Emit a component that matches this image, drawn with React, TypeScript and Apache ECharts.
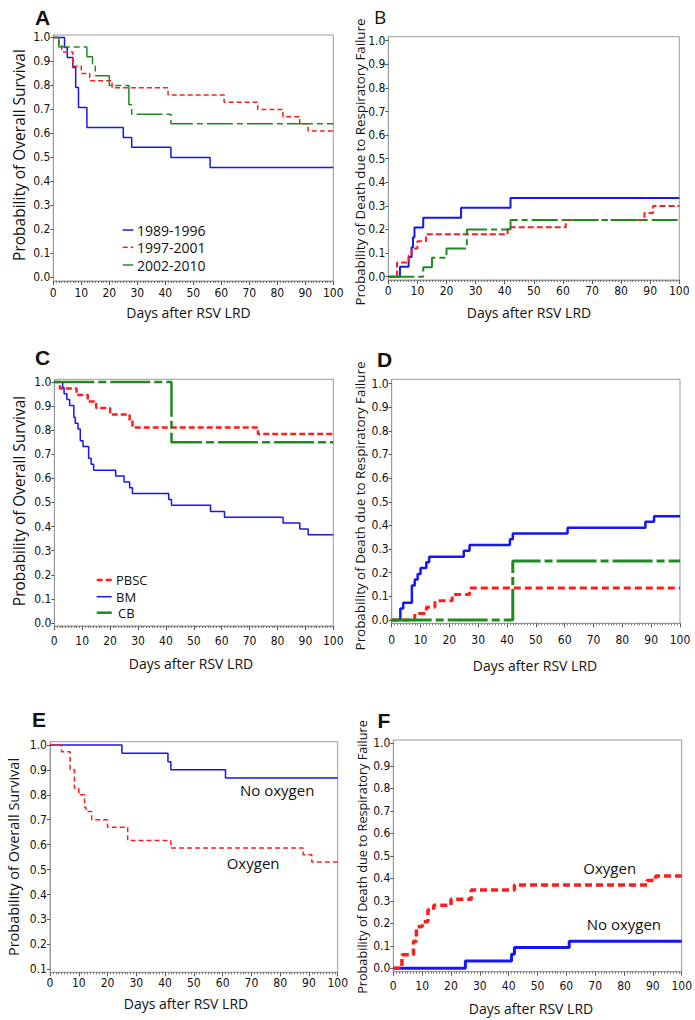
import React, { useEffect, useRef } from "react";
import * as echarts from "echarts";

// ---------- tick values ----------
const DAY_MIN = 0;
const DAY_MAX = 100;
const DAY_STEP = 10;
const PROB_TICKS = [0.0, 0.1, 0.2, 0.3, 0.4, 0.5, 0.6, 0.7, 0.8, 0.9, 1.0];
const PROB_TICKS_E = [0.1, 0.2, 0.3, 0.4, 0.5, 0.6, 0.7, 0.8, 0.9, 1.0];

// ---------- texts ----------
const X_TITLE = "Days after RSV LRD";
const OS_TITLE = "Probability of Overall Survival";
const RF_TITLE = "Probability of Death due to Respiratory Failure";
const LEGEND_A = ["1989-1996", "1997-2001", "2002-2010"];
const LEGEND_C = ["PBSC", "BM", "CB"];
const LABELS_OXY = ["No oxygen", "Oxygen"];

// ---------- Panel A: overall survival by era [day, probability] ----------
const A_1989_1996 = [[0, 1], [4, 0.958], [5, 0.917], [7, 0.875], [8, 0.792], [9, 0.708], [12, 0.625], [25, 0.583], [28, 0.542], [42, 0.5], [56, 0.458], [100, 0.458]];
const A_1997_2001 = [[0, 1], [2, 0.97], [3, 0.94], [7, 0.88], [10, 0.85], [13, 0.82], [21, 0.79], [41, 0.76], [61, 0.73], [73, 0.7], [82, 0.67], [88, 0.64], [91, 0.61], [100, 0.61]];
const A_2002_2010 = [[0, 1], [2, 0.96], [12, 0.92], [14, 0.88], [15, 0.84], [20, 0.8], [27, 0.72], [28, 0.68], [42, 0.64], [100, 0.64]];

// ---------- Panel B: death due to respiratory failure by era ----------
const B_1989_1996 = [[0, 0], [4, 0.042], [7, 0.083], [8, 0.125], [8.5, 0.167], [9, 0.208], [12, 0.25], [25, 0.292], [42, 0.333], [100, 0.333]];
const B_1997_2001 = [[0, 0], [3, 0.06], [7, 0.09], [8, 0.12], [10, 0.15], [13, 0.18], [41, 0.21], [61, 0.24], [88, 0.27], [91, 0.3], [100, 0.3]];
const B_2002_2010 = [[0, 0], [12, 0.04], [15, 0.08], [20, 0.12], [27, 0.2], [42, 0.24], [100, 0.24]];

// ---------- Panel C: overall survival by stem cell source ----------
const C_PBSC = [[0, 1], [2, 0.973], [8, 0.946], [12, 0.919], [15, 0.892], [20, 0.865], [27, 0.838], [28, 0.811], [73, 0.784], [100, 0.784]];
const C_BM = [[0, 1], [3, 0.976], [3.5, 0.951], [4.5, 0.927], [5.5, 0.902], [7, 0.854], [7.5, 0.829], [8.5, 0.805], [9.3, 0.756], [10.3, 0.732], [12.3, 0.683], [13.2, 0.659], [14.1, 0.634], [22, 0.61], [25, 0.585], [27, 0.561], [28, 0.537], [41, 0.512], [42, 0.488], [56, 0.463], [61, 0.439], [82, 0.415], [88, 0.39], [91, 0.366], [100, 0.366]];
const C_CB = [[0, 1], [42, 0.75], [100, 0.75]];

// ---------- Panel D: respiratory failure death by stem cell source ----------
const D_PBSC = [[0, 0], [8, 0.027], [12, 0.054], [15, 0.081], [21, 0.108], [27, 0.135], [100, 0.135]];
const D_BM = [[0, 0], [3, 0.049], [4, 0.073], [7, 0.146], [8, 0.171], [9, 0.195], [10, 0.22], [12, 0.244], [13, 0.268], [25, 0.293], [27, 0.317], [41, 0.341], [42, 0.366], [61, 0.39], [88, 0.415], [91, 0.439], [100, 0.439]];
const D_CB = [[0, 0], [42, 0.25], [100, 0.25]];

// ---------- Panel E: overall survival by oxygen need ----------
const E_NO_OXYGEN = [[0, 1], [25, 0.967], [41, 0.933], [42, 0.9], [61, 0.867], [100, 0.867]];
const E_OXYGEN = [[0, 1], [4, 0.973], [7, 0.9], [8.5, 0.826], [10, 0.8], [12, 0.75], [12.5, 0.733], [14.5, 0.7], [20, 0.67], [27, 0.617], [42, 0.587], [88, 0.56], [91, 0.53], [100, 0.53]];

// ---------- Panel F: respiratory failure death by oxygen need ----------
const F_NO_OXYGEN = [[0, 0], [25, 0.033], [41, 0.063], [42, 0.093], [61, 0.12], [100, 0.12]];
const F_OXYGEN = [[0, 0], [3, 0.06], [7, 0.12], [8, 0.185], [10, 0.207], [12, 0.259], [14, 0.28], [20, 0.307], [27, 0.348], [42, 0.37], [88, 0.39], [91, 0.41], [100, 0.41]];

// ---------- styles ----------
const BLUE = "#1616f2";
const RED = "#ff1c1c";
const GREEN = "#1f8a1f";
const FRAME = "#9a9a9a";
const TICK_FONT = "'Liberation Sans Narrow', 'DejaVu Sans Condensed', 'Roboto', sans-serif";
const TEXT_FONT = "'Open Sans', 'DejaVu Sans', sans-serif";
const LETTER_FONT = "'Liberation Sans', Arial, sans-serif";

type Curve = { name: string; data: number[][]; color: string; width: number; dash: number[] | "solid" };
type Panel = {
  left: number; top: number; width: number; height: number;
  yMin: number; yMax: number; yTicks: number[];
  xLabelMargin: number;
  curves: Curve[];
};

const PANELS: Panel[] = [
  {
    left: 53.3, top: 35, width: 280, height: 246, yMin: -0.0154, yMax: 1.0104, yTicks: PROB_TICKS, xLabelMargin: 6,
    curves: [
      { name: LEGEND_A[0], data: A_1989_1996, color: BLUE, width: 1.5, dash: "solid" },
      { name: LEGEND_A[1], data: A_1997_2001, color: RED, width: 1.5, dash: [5, 3] },
      { name: LEGEND_A[2], data: A_2002_2010, color: GREEN, width: 1.5, dash: [26, 4, 6, 4] },
    ],
  },
  {
    left: 388.3, top: 36.7, width: 291, height: 243.3, yMin: -0.014, yMax: 1.017, yTicks: PROB_TICKS, xLabelMargin: 5,
    curves: [
      { name: LEGEND_A[0], data: B_1989_1996, color: BLUE, width: 2, dash: "solid" },
      { name: LEGEND_A[1], data: B_1997_2001, color: RED, width: 2, dash: [6, 3] },
      { name: LEGEND_A[2], data: B_2002_2010, color: GREEN, width: 2, dash: [26, 4, 6, 4] },
    ],
  },
  {
    left: 54.3, top: 379.3, width: 279, height: 246.7, yMin: -0.0124, yMax: 1.011, yTicks: PROB_TICKS, xLabelMargin: 9,
    curves: [
      { name: LEGEND_C[0], data: C_PBSC, color: RED, width: 2.5, dash: [6, 3] },
      { name: LEGEND_C[1], data: C_BM, color: BLUE, width: 1.5, dash: "solid" },
      { name: LEGEND_C[2], data: C_CB, color: GREEN, width: 2.5, dash: [40, 4, 8, 4] },
    ],
  },
  {
    left: 391.7, top: 379.3, width: 288.3, height: 244, yMin: -0.014, yMax: 1.018, yTicks: PROB_TICKS, xLabelMargin: 11,
    curves: [
      { name: LEGEND_C[1], data: D_BM, color: BLUE, width: 2.5, dash: "solid" },
      { name: LEGEND_C[0], data: D_PBSC, color: RED, width: 3, dash: [7, 4] },
      { name: LEGEND_C[2], data: D_CB, color: GREEN, width: 3, dash: [40, 4, 8, 4] },
    ],
  },
  {
    left: 50, top: 741.7, width: 287.7, height: 230.6, yMin: 0.088, yMax: 1.013, yTicks: PROB_TICKS_E, xLabelMargin: 5,
    curves: [
      { name: LABELS_OXY[0], data: E_NO_OXYGEN, color: BLUE, width: 1.5, dash: "solid" },
      { name: LABELS_OXY[1], data: E_OXYGEN, color: RED, width: 1.5, dash: [5, 3] },
    ],
  },
  {
    left: 393.3, top: 740, width: 289.4, height: 231.7, yMin: -0.015, yMax: 1.0147, yTicks: PROB_TICKS, xLabelMargin: 8,
    curves: [
      { name: LABELS_OXY[0], data: F_NO_OXYGEN, color: BLUE, width: 3, dash: "solid" },
      { name: LABELS_OXY[1], data: F_OXYGEN, color: RED, width: 3.5, dash: [7, 4] },
    ],
  },
];

function txt(text: string, x: number, y: number, size: number, opts: any = {}) {
  return {
    type: "text",
    x,
    y,
    rotation: opts.rotation || 0,
    silent: true,
    style: {
      text,
      fontSize: size,
      lineHeight: Math.round(size * 1.05),
      fontFamily: opts.font || TEXT_FONT,
      fontWeight: opts.weight || "normal",
      fill: "#111",
      textAlign: opts.align || "center",
      align: opts.align || "center",
      textVerticalAlign: "middle",
      verticalAlign: "middle",
    },
  };
}

function legendItem(label: string, curve: Curve, x1: number, x2: number, y: number, tx: number, size: number) {
  return [
    {
      type: "line",
      silent: true,
      shape: { x1, y1: y, x2, y2: y },
      style: { stroke: curve.color, lineWidth: curve.width, lineDash: curve.dash === "solid" ? null : curve.dash },
    },
    txt(label, tx, y, size, { align: "left" }),
  ];
}

function buildOption() {
  const grid: any[] = [];
  const xAxis: any[] = [];
  const yAxis: any[] = [];
  const series: any[] = [];

  PANELS.forEach((p, i) => {
    grid.push({ left: p.left, top: p.top, width: p.width, height: p.height, show: true, borderColor: FRAME, borderWidth: 1, backgroundColor: "transparent" });
    xAxis.push({
      gridIndex: i, type: "value", min: DAY_MIN, max: DAY_MAX, interval: DAY_STEP,
      axisLine: { show: true, onZero: false, lineStyle: { color: FRAME } },
      axisTick: { show: true, length: 4, lineStyle: { color: "#555" } },
      minorTick: { show: true, splitNumber: 10, length: 2, lineStyle: { color: "#777" } },
      splitLine: { show: false }, minorSplitLine: { show: false },
      axisLabel: { margin: p.xLabelMargin, fontSize: 12, fontFamily: TICK_FONT, color: "#111" },
    });
    yAxis.push({
      gridIndex: i, type: "value", min: p.yMin, max: p.yMax,
      axisLine: { show: true, onZero: false, lineStyle: { color: FRAME } },
      axisTick: { show: true, length: 3, customValues: p.yTicks, lineStyle: { color: "#555" } },
      splitLine: { show: false },
      axisLabel: { customValues: p.yTicks, margin: 3, fontSize: 12, fontFamily: TICK_FONT, color: "#111", formatter: (v: number) => v.toFixed(1) },
    });
    p.curves.forEach((c) => {
      series.push({
        type: "line", name: c.name, xAxisIndex: i, yAxisIndex: i, data: c.data, step: "end",
        symbol: "none", showSymbol: false, silent: true,
        lineStyle: { color: c.color, width: c.width, type: c.dash },
      });
    });
  });

  const graphic: any[] = [
    // panel letters
    txt("A", 35, 17.5, 21, { align: "left", font: LETTER_FONT, weight: "bold" }),
    txt("B", 374, 17, 19, { align: "left" }),
    txt("C", 35, 357.5, 21, { align: "left", font: LETTER_FONT, weight: "bold" }),
    txt("D", 377, 359.5, 21, { align: "left", font: LETTER_FONT, weight: "bold" }),
    txt("E", 32, 719.5, 21, { align: "left", font: LETTER_FONT, weight: "bold" }),
    txt("F", 377.5, 720, 21, { align: "left", font: LETTER_FONT, weight: "bold" }),
    // x titles
    txt(X_TITLE, 188.5, 312, 14),
    txt(X_TITLE, 529, 312, 14),
    txt(X_TITLE, 191, 663, 14),
    txt(X_TITLE, 535, 665, 14),
    txt(X_TITLE, 186, 1003, 14),
    txt(X_TITLE, 531, 1008, 14),
    // y titles
    txt(OS_TITLE, 19, 155, 15.5, { rotation: Math.PI / 2 }),
    txt(RF_TITLE, 360, 162, 13.3, { rotation: Math.PI / 2 }),
    txt(OS_TITLE, 19, 501, 15.4, { rotation: Math.PI / 2 }),
    txt(RF_TITLE, 360, 506, 13.4, { rotation: Math.PI / 2 }),
    txt(OS_TITLE, 13.5, 857, 14.5, { rotation: Math.PI / 2 }),
    txt(RF_TITLE, 362, 857, 12.7, { rotation: Math.PI / 2 }),
    // legend A
    ...legendItem(LEGEND_A[0], PANELS[0].curves[0], 122.7, 133.3, 230, 137, 14),
    ...legendItem(LEGEND_A[1], PANELS[0].curves[1], 122.7, 133.3, 247.3, 137, 14),
    ...legendItem(LEGEND_A[2], PANELS[0].curves[2], 122.7, 133.3, 265, 137, 14),
    // legend C
    ...legendItem(LEGEND_C[0], PANELS[2].curves[0], 96.7, 111.7, 580, 116, 13),
    ...legendItem(LEGEND_C[1], PANELS[2].curves[1], 96.7, 111.7, 596.7, 116, 13),
    ...legendItem(LEGEND_C[2], PANELS[2].curves[2], 96.7, 111.7, 612.7, 118, 13),
    // E / F curve labels
    txt(LABELS_OXY[0], 240, 790, 15, { align: "left" }),
    txt(LABELS_OXY[1], 226.7, 862.7, 15, { align: "left" }),
    txt(LABELS_OXY[1], 583.3, 868.3, 15, { align: "left" }),
    txt(LABELS_OXY[0], 586.7, 924.3, 15, { align: "left" }),
  ];

  return { animation: false, backgroundColor: "#fff", grid, xAxis, yAxis, series, graphic };
}

export default function App() {
  const ref = useRef<HTMLDivElement>(null);
  useEffect(() => {
    const chart = echarts.init(ref.current as HTMLDivElement, null, { renderer: "svg" });
    chart.setOption(buildOption() as any);
    return () => chart.dispose();
  }, []);
  return <div ref={ref} style={{ position: "absolute", left: 0, top: 0, width: 695, height: 1020, background: "#fff" }} />;
}
